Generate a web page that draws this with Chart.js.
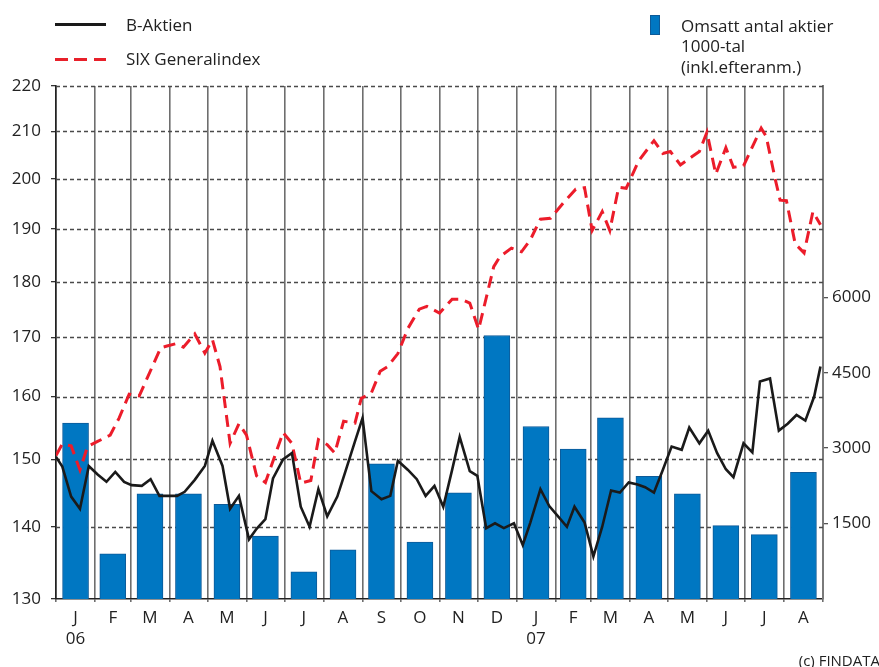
<!DOCTYPE html>
<html lang="sv">
<head>
<meta charset="UTF-8">
<title>B-Aktien</title>
<script src="https://cdn.jsdelivr.net/npm/chart.js"></script>
<style>
  body { margin: 0; background: #fff; font-family: 'Open Sans', sans-serif; color: #222; }
  #wrap { position: relative; width: 879px; height: 667px; overflow: hidden; }
  #chart { position: absolute; left: 0; top: 0; }
  .lg { position: absolute; font-size: 17px; line-height: 20.5px; white-space: nowrap; color: #222; }
  .sw { position: absolute; }
</style>
</head>
<body>
<div id="wrap">
  <canvas id="chart" width="879" height="667"></canvas>

  <div class="sw" style="left:55px;top:23px;width:51px;height:3px;background:#1a1a1a"></div>
  <div class="lg" style="left:126px;top:15px">B-Aktien</div>
  <div class="sw" style="left:55px;top:58px;width:51px;height:3px;background:repeating-linear-gradient(to right,#e8202a 0 13px,transparent 13px 19.5px)"></div>
  <div class="lg" style="left:126px;top:49px">SIX Generalindex</div>

  <div class="sw" style="left:650px;top:15px;width:10px;height:20px;background:#0077c2;border:1px solid #0d5a98;box-sizing:border-box"></div>
  <div class="lg" style="left:681px;top:15.5px">Omsatt antal aktier<br>1000-tal<br>(inkl.efteranm.)</div>

  <div class="lg" style="right:-1px;top:650px;font-size:15px">(c) FINDATA</div>
</div>

<script>
// days since 2006-01-01 where each month starts (last = 2007-09-01)
const monthStarts = [0, 31, 59, 90, 120, 151, 181, 212, 243, 273, 304, 334, 365, 396, 424, 455, 485, 516, 546, 577, 608];
const monthLabels = ['J', 'F', 'M', 'A', 'M', 'J', 'J', 'A', 'S', 'O', 'N', 'D', 'J', 'F', 'M', 'A', 'M', 'J', 'J', 'A'];
const yearLabels = { 0: '06', 12: '07' };

// Omsatt antal aktier, 1000-tal, per month
const volume = [3500, 900, 2090, 2090, 1880, 1250, 540, 980, 2690, 1130, 2110, 5240, 3430, 2980, 3600, 2440, 2090, 1460, 1280, 2520];

// B-Aktien, weekly
const bDays = [0, 5, 12, 19, 26, 33, 40, 47, 54, 60, 68, 75, 82, 89, 96, 102, 110, 118, 124, 132, 138, 145, 153, 159, 166, 172, 180, 187, 194, 201, 208, 215, 223, 229, 237, 243, 250, 258, 265, 271, 279, 286, 293, 300, 307, 314, 320, 328, 334, 341, 348, 355, 363, 370, 376, 384, 391, 398, 405, 411, 419, 426, 433, 440, 447, 454, 461, 467, 474, 481, 488, 496, 502, 510, 517, 524, 531, 537, 545, 552, 558, 566, 573, 580, 587, 594, 601, 606];
const bValues = [150.4, 148.9, 144.4, 142.6, 149.0, 147.7, 146.6, 148.1, 146.6, 146.1, 146.0, 147.0, 144.5, 144.5, 144.5, 145.1, 146.9, 149.0, 152.9, 149.0, 142.6, 144.5, 138.2, 139.7, 141.1, 147.1, 150.0, 151.0, 142.9, 140.0, 145.5, 141.5, 144.4, 147.9, 152.8, 156.5, 145.2, 144.0, 144.5, 149.8, 148.4, 147.0, 144.5, 146.0, 142.9, 148.4, 153.5, 148.2, 147.5, 139.8, 140.5, 139.8, 140.5, 137.4, 140.6, 145.5, 143.0, 141.5, 140.0, 142.9, 140.6, 135.8, 140.0, 145.3, 145.0, 146.5, 146.2, 145.8, 145.0, 148.4, 152.0, 151.5, 155.0, 152.5, 154.5, 151.0, 148.5, 147.3, 152.5, 151.1, 162.5, 163.0, 154.5, 155.6, 157.0, 156.1, 160.0, 165.0];

// SIX Generalindex
const sDays = [0, 5, 12, 19, 25, 33, 43, 50, 58, 66, 83, 88, 95, 101, 110, 118, 124, 130, 138, 145, 151, 159, 166, 180, 187, 194, 202, 208, 215, 221, 228, 237, 242, 250, 257, 263, 271, 279, 288, 294, 304, 314, 321, 328, 335, 347, 352, 361, 369, 376, 384, 392, 402, 412, 419, 425, 433, 439, 446, 452, 462, 474, 481, 487, 495, 504, 510, 516, 523, 531, 537, 545, 552, 559, 563, 570, 574, 579, 586, 593, 600, 606];
const sValues = [150.6, 152.4, 152.1, 148.4, 152.0, 152.8, 153.8, 156.5, 160.4, 160.1, 168.2, 168.5, 168.9, 168.3, 170.6, 167.3, 169.6, 165.0, 152.5, 155.6, 153.8, 147.5, 146.5, 154.2, 152.5, 146.4, 146.8, 153.1, 152.3, 151.0, 156.0, 155.7, 159.7, 160.6, 164.2, 165.0, 167.2, 171.6, 175.0, 175.5, 174.3, 176.8, 176.8, 176.1, 171.4, 182.8, 184.7, 186.3, 185.6, 187.9, 191.9, 192.1, 195.1, 197.9, 198.2, 189.7, 193.4, 189.7, 198.3, 198.1, 203.8, 208.0, 205.3, 205.7, 202.9, 204.6, 205.7, 209.8, 201.0, 206.5, 202.4, 202.7, 206.7, 210.7, 208.9, 200.1, 195.7, 195.6, 187.1, 185.4, 193.4, 190.8];

const leftTicks = [130, 140, 150, 160, 170, 180, 190, 200, 210, 220];
const rightTicks = [1500, 3000, 4500, 6000];

// month middles (bars and month letters)
const monthMids = monthLabels.map((_, i) => (monthStarts[i] + monthStarts[i + 1]) / 2);
const midLabel = {};
monthMids.forEach((m, i) => {
  midLabel[m] = yearLabels[i] ? [monthLabels[i], yearLabels[i]] : monthLabels[i];
});
const startSet = new Set(monthStarts);

const tickFont = { family: "'Open Sans', sans-serif", size: 17 };

// dashed horizontal lines at the left axis ticks, under the bars
const hGrid = {
  id: 'hGrid',
  beforeDatasetsDraw(chart) {
    const { ctx, chartArea, scales } = chart;
    ctx.save();
    ctx.strokeStyle = '#4a4a4a';
    ctx.lineWidth = 1.3;
    ctx.setLineDash([4, 3]);
    leftTicks.forEach(v => {
      if (v === leftTicks[0]) return;
      const y = Math.round(scales.y.getPixelForValue(v)) + 0.5;
      ctx.beginPath();
      ctx.moveTo(chartArea.left, y);
      ctx.lineTo(chartArea.right, y);
      ctx.stroke();
    });
    ctx.restore();
  }
};

new Chart(document.getElementById('chart'), {
  type: 'bar',
  data: {
    datasets: [
      {
        type: 'line',
        label: 'B-Aktien',
        data: bDays.map((d, i) => ({ x: d, y: bValues[i] })),
        yAxisID: 'y',
        borderColor: '#1a1a1a',
        borderWidth: 2.6,
        pointRadius: 0,
        tension: 0,
        order: 1
      },
      {
        type: 'line',
        label: 'SIX Generalindex',
        data: sDays.map((d, i) => ({ x: d, y: sValues[i] })),
        yAxisID: 'y',
        borderColor: '#ec1c2a',
        borderWidth: 3,
        borderDash: [12, 7],
        pointRadius: 0,
        tension: 0,
        order: 2
      },
      {
        label: 'Omsatt antal aktier',
        data: monthMids.map((m, i) => ({ x: m, y: volume[i] })),
        yAxisID: 'y2',
        backgroundColor: '#0077c2',
        borderColor: '#0d5a98',
        borderWidth: 1,
        barThickness: 26,
        order: 3
      }
    ]
  },
  options: {
    responsive: false,
    animation: false,
    layout: { padding: { top: 86, left: 0, right: 0, bottom: 0 } },
    plugins: { legend: { display: false }, tooltip: { enabled: false } },
    scales: {
      x: {
        type: 'linear',
        min: 0,
        max: 608,
        offset: false,
        afterBuildTicks: s => { s.ticks = monthStarts.concat(monthMids).map(v => ({ value: v })); },
        afterFit: s => { s.height = 68; },
        grid: {
          offset: false,
          color: c => (c.tick && startSet.has(c.tick.value)) ? '#6e6e6e' : 'rgba(0,0,0,0)',
          lineWidth: 1.6,
          tickLength: 3
        },
        border: { color: '#222', width: 1.6 },
        ticks: {
          autoSkip: false,
          maxRotation: 0,
          padding: 5,
          color: '#222',
          font: Object.assign({ lineHeight: 1.27 }, tickFont),
          callback: v => midLabel[v] !== undefined ? midLabel[v] : ''
        }
      },
      y: {
        type: 'logarithmic',
        position: 'left',
        min: 130,
        max: 220,
        afterBuildTicks: s => { s.ticks = leftTicks.map(v => ({ value: v })); },
        afterFit: s => { s.width = 56; },
        grid: {
          drawOnChartArea: false,
          color: '#333',
          lineWidth: 1.3,
          tickLength: 5
        },
        border: { color: '#222', width: 1.6 },
        ticks: { padding: 10, color: '#222', font: tickFont, callback: v => String(v) }
      },
      y2: {
        type: 'linear',
        position: 'right',
        min: 0,
        max: 10200,
        afterBuildTicks: s => { s.ticks = rightTicks.map(v => ({ value: v })); },
        afterFit: s => { s.width = 56; },
        grid: { drawOnChartArea: false, tickLength: 5, color: '#555', lineWidth: 1.3 },
        border: { color: '#7a7a7a', width: 2 },
        ticks: { padding: 4, color: '#222', font: tickFont, callback: v => String(v) }
      }
    }
  },
  plugins: [hGrid]
});
</script>
</body>
</html>
